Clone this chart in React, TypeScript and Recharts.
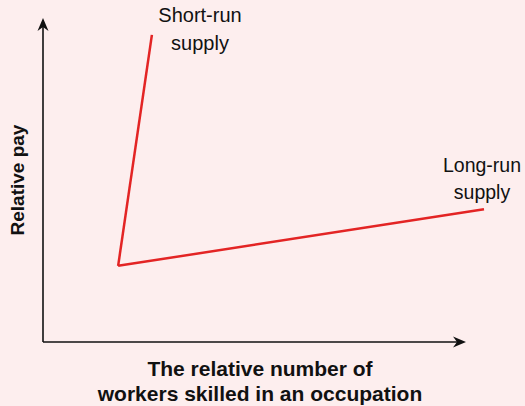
import { ComposedChart, Line, XAxis, YAxis, ReferenceLine } from 'recharts'

// point where both supply curves start
const startPoint = { x: 1.67, y: 2.35 }
const shortRun = [startPoint, { x: 2.42, y: 9.48 }]
const longRun = [startPoint, { x: 9.8, y: 4.1 }]
const xAxisEnd = 9.4
const yAxisEnd = 10

const bg = '#fdeeee'
const red = '#e32424'

const Arrow = (props: any) => {
  const { x1, y1, x2, y2 } = props
  const ang = Math.atan2(y2 - y1, x2 - x1)
  const len = 13
  const half = 5.5
  const back = 9
  const bx = x2 - len * Math.cos(ang)
  const by = y2 - len * Math.sin(ang)
  const nx = x2 - back * Math.cos(ang)
  const ny = y2 - back * Math.sin(ang)
  const px = -Math.sin(ang) * half
  const py = Math.cos(ang) * half
  return (
    <g>
      <line x1={x1} y1={y1} x2={nx} y2={ny} stroke="#111" strokeWidth={1.6} />
      <polygon
        points={`${x2},${y2} ${bx + px},${by + py} ${nx},${ny} ${bx - px},${by - py}`}
        fill="#111"
      />
    </g>
  )
}

const label: React.CSSProperties = {
  position: 'absolute',
  fontFamily: '"Liberation Sans", Arial, sans-serif',
  fontSize: 20,
  color: '#111',
  textAlign: 'center',
  lineHeight: '28px',
  whiteSpace: 'nowrap',
}

export default function App() {
  return (
    <div style={{ position: 'absolute', left: 0, top: 0, width: 525, height: 406, background: bg }}>
      <ComposedChart
        width={525}
        height={406}
        margin={{ top: 18, left: 43, right: 32, bottom: 64 }}
      >
        <XAxis type="number" dataKey="x" domain={[0, 10]} hide />
        <YAxis type="number" dataKey="y" domain={[0, 10]} hide />
        <ReferenceLine
          segment={[{ x: 0, y: 0 }, { x: xAxisEnd, y: 0 }]}
          shape={<Arrow />}
          ifOverflow="visible"
        />
        <ReferenceLine
          segment={[{ x: 0, y: 0 }, { x: 0, y: yAxisEnd }]}
          shape={<Arrow />}
          ifOverflow="visible"
        />
        <Line
          data={shortRun}
          dataKey="y"
          type="linear"
          stroke={red}
          strokeWidth={2.5}
          dot={false}
          isAnimationActive={false}
        />
        <Line
          data={longRun}
          dataKey="y"
          type="linear"
          stroke={red}
          strokeWidth={2.5}
          dot={false}
          isAnimationActive={false}
        />
      </ComposedChart>
      <div style={{ ...label, left: 140, top: 1, width: 120 }}>
        Short-run
        <br />
        supply
      </div>
      <div style={{ ...label, fontSize: 19.5, lineHeight: '27px', left: 422, top: 151.5, width: 120 }}>
        Long-run
        <br />
        supply
      </div>
      <div
        style={{ ...label, fontSize: 21, fontWeight: 'bold', left: 60, top: 355.5, width: 400, lineHeight: '25px' }}
      >
        The relative number of
        <br />
        workers skilled in an occupation
      </div>
      <div
        style={{
          ...label,
          fontSize: 19,
          fontWeight: 'bold',
          left: 18 - 70,
          top: 180 - 12,
          width: 140,
          lineHeight: '24px',
          transform: 'rotate(-90deg)',
        }}
      >
        Relative pay
      </div>
    </div>
  )
}
